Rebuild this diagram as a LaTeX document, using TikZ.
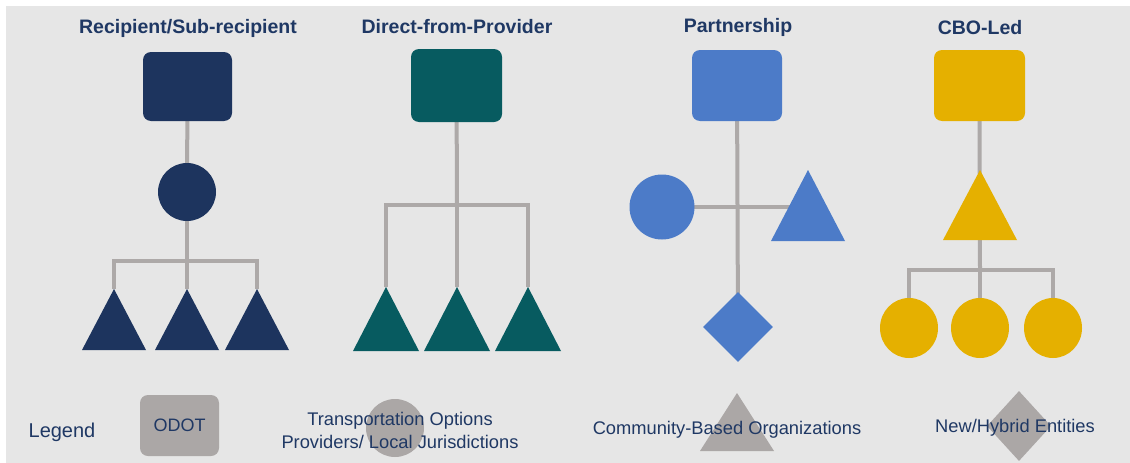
\documentclass[tikz,border=0pt]{standalone}
\usepackage{fontspec}
\setmainfont{Liberation Sans}
\usetikzlibrary{shapes.geometric}
\definecolor{navy}{HTML}{1D345E}
\definecolor{teal}{HTML}{075B60}
\definecolor{blueA}{HTML}{4C7BC8}
\definecolor{gold}{HTML}{E5B000}
\definecolor{lineg}{HTML}{ADA9A8}
\definecolor{legg}{HTML}{ABA7A6}
\definecolor{bgc}{HTML}{E6E6E6}
\definecolor{txt}{HTML}{1F3864}
\pgfdeclarelayer{bg}
\pgfdeclarelayer{lines}
\pgfsetlayers{bg,lines,main}
\tikzset{
  box/.style={rectangle, rounded corners=8pt, inner sep=0pt},
  circ/.style={ellipse, inner sep=0pt},
  dia/.style={diamond, inner sep=0pt},
  conn/.style={draw=lineg, line width=4pt},
  title/.style={font=\fontsize{19.5}{22}\selectfont\bfseries, text=txt},
  legtext/.style={font=\fontsize{18.3}{23}\selectfont, text=txt, align=center},
}
\newcommand{\trishape}[6]{% name, cx, apexy, basey, halfw, color
  \coordinate (#1) at (#2,#3);
  \fill[#6] (#2,#3) -- (#2+#5,#4) -- (#2-#5,#4) -- cycle;
}
\begin{document}
\begin{tikzpicture}[x=1pt,y=-1pt]
\useasboundingbox (0,0) rectangle (1130,463);
\begin{pgfonlayer}{bg}
  \fill[white] (0,0) rectangle (1130,463);
  \fill[bgc] (6,6) rectangle (1130,463);
\end{pgfonlayer}

% titles
\node[title] (h1) at (188,28) {Recipient/Sub-recipient};
\node[title] (h2) at (457,27) {Direct-from-Provider};
\node[title] (h3) at (738,27) {Partnership};
\node[title] (h4) at (980,28) {CBO-Led};

% column 1
\node[box, fill=navy, minimum width=89pt, minimum height=69pt] (r1) at (187.5,86.5) {};
\node[circ, fill=navy, minimum width=58pt, minimum height=58pt] (c1) at (187,192) {};
\trishape{t11}{114}{289}{350}{32}{navy}
\trishape{t12}{187}{289}{350}{32}{navy}
\trishape{t13}{257}{289}{350}{32}{navy}
\coordinate (b1) at (187,261);

% column 2
\node[box, fill=teal, minimum width=91pt, minimum height=73pt] (r2) at (456.5,85.5) {};
\trishape{t21}{386}{287}{351}{33}{teal}
\trishape{t22}{457}{287}{351}{33}{teal}
\trishape{t23}{528}{287}{351}{33}{teal}
\coordinate (b2) at (457,205);

% column 3
\node[box, fill=blueA, minimum width=90pt, minimum height=71pt] (r3) at (737,85.5) {};
\node[circ, fill=blueA, minimum width=65pt, minimum height=65pt] (c3) at (662,207) {};
\trishape{t31}{808}{170}{241}{37}{blueA}
\coordinate (t31m) at (808,207);
\node[dia, fill=blueA, minimum width=70pt, minimum height=70pt] (d3) at (738,327) {};

% column 4
\node[box, fill=gold, minimum width=91pt, minimum height=71pt] (r4) at (979.5,85.5) {};
\trishape{t41}{980}{170}{240}{37}{gold}
\node[circ, fill=gold, minimum width=58pt, minimum height=60pt] (c41) at (909,328) {};
\node[circ, fill=gold, minimum width=58pt, minimum height=60pt] (c42) at (980,328) {};
\node[circ, fill=gold, minimum width=58pt, minimum height=60pt] (c43) at (1053,328) {};
\coordinate (b4) at (980,270);

% connectors
\begin{pgfonlayer}{lines}
  \draw[conn] (r1.center) -- (c1.center);
  \draw[conn] (c1.center) -- (b1);
  \draw[conn] (t11) |- (b1) -| (t13);
  \draw[conn] (b1) -- (t12);
  \draw[conn] (r2.center) -- (b2);
  \draw[conn] (t21) |- (b2) -| (t23);
  \draw[conn] (b2) -- (t22);
  \draw[conn] (r3.center) -- (d3.center);
  \draw[conn] (c3.center) -- (t31m);
  \draw[conn] (r4.center) -- (b4);
  \draw[conn] (c41.center) |- (b4) -| (c43.center);
  \draw[conn] (b4) -- (c42.center);
\end{pgfonlayer}

% legend
\node[font=\fontsize{20}{24}\selectfont, text=txt] (lg) at (62,432) {Legend};
\node[box, fill=legg, minimum width=79pt, minimum height=61pt, font=\fontsize{18}{22}\selectfont, text=txt] (lodot) at (179.5,425.5) {ODOT};
\node[circ, fill=legg, minimum width=58pt, minimum height=58pt] (lcirc) at (395,428) {};
\node[legtext] (ltop) at (400,430) {Transportation Options\\Providers/ Local Jurisdictions};
\trishape{ltri}{737}{393}{451}{37}{legg}
\node[legtext] (lcbo) at (727,430) {Community-Based Organizations};
\node[dia, fill=legg, minimum width=64pt, minimum height=70pt] (ldia) at (1019,426) {};
\node[legtext] (lnew) at (1015,428) {New/Hybrid Entities};
\end{tikzpicture}
\end{document}
